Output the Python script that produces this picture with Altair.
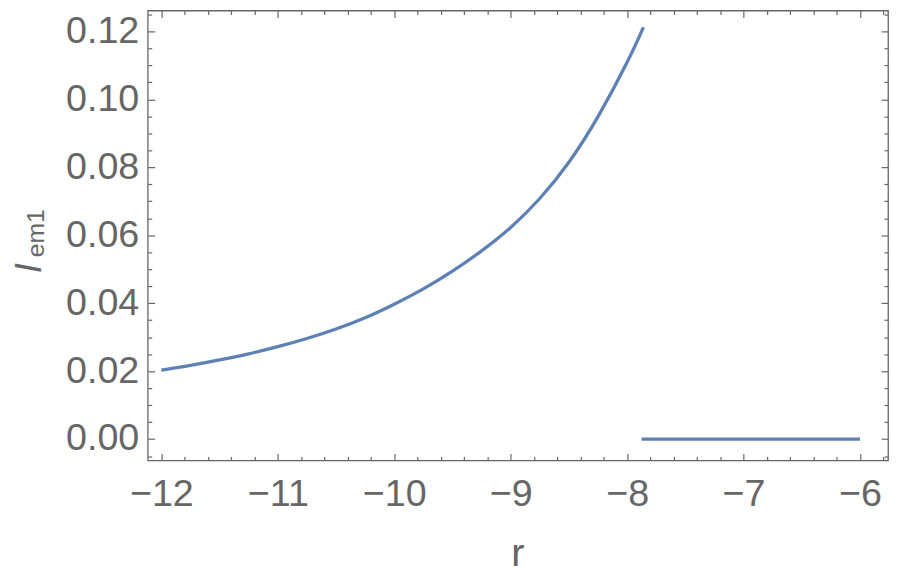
import altair as alt
import pandas as pd

# curve segment
curve_r = [-12.0, -11.75, -11.5, -11.25, -11.0, -10.75, -10.5, -10.25, -10.0,
           -9.75, -9.5, -9.25, -9.0, -8.75, -8.5, -8.25, -8.0, -7.86]
curve_i = [0.0203, 0.0217, 0.0233, 0.0251, 0.0272, 0.0296, 0.0324, 0.0357, 0.0397,
           0.0442, 0.0494, 0.0554, 0.0623, 0.0708, 0.0815, 0.0949, 0.1109, 0.1212]
# flat segment
flat_r = [-7.875, -6.0]
flat_i = [0.0, 0.0]

x_major = [-12, -11, -10, -9, -8, -7, -6]
x_minor = [round(-12.0 + 0.2 * k, 2) for k in range(0, 31) if k % 5 != 0] + [-5.8]
y_major = [0.00, 0.02, 0.04, 0.06, 0.08, 0.10, 0.12]
y_minor = [-0.005] + [round(0.005 * k, 3) for k in range(0, 26) if k % 4 != 0]

x_dom = [-12.117, -5.759]
y_dom = [-0.0063, 0.12612]

df = pd.DataFrame({
    "r": curve_r + flat_r,
    "I": curve_i + flat_i,
    "seg": ["a"] * len(curve_r) + ["b"] * len(flat_r),
})

GRAY = "#666666"
FONT = "Liberation Sans"
BLUE = "#5E81B5"

common = dict(grid=False, domain=False, tickColor=GRAY, tickWidth=1.2,
              labelColor=GRAY, labelFont=FONT, labelFontSize=38, title=None)


def xs(axis):
    return alt.X("r:Q", scale=alt.Scale(domain=x_dom, nice=False, zero=False), axis=axis)


def ys(axis):
    return alt.Y("I:Q", scale=alt.Scale(domain=y_dom, nice=False, zero=False), axis=axis)


main = alt.Chart(df).mark_line(color=BLUE, strokeWidth=3.3, interpolate="natural").encode(
    x=xs(alt.Axis(orient="bottom", values=x_major, format="d", offset=-7, tickSize=7,
                  labelPadding=15, **common)),
    y=ys(alt.Axis(orient="left", values=y_major, format=".2f", offset=-7, tickSize=7,
                  labelPadding=9, **common)),
    detail="seg:N",
)

minor_bl = alt.Chart(df).mark_point(opacity=0).encode(
    x=xs(alt.Axis(orient="bottom", values=x_minor, labels=False, offset=-4, tickSize=4, **common)),
    y=ys(alt.Axis(orient="left", values=y_minor, labels=False, offset=-4, tickSize=4, **common)),
)

major_tr = alt.Chart(df).mark_point(opacity=0).encode(
    x=xs(alt.Axis(orient="top", values=x_major, labels=False, offset=-7, tickSize=7, **common)),
    y=ys(alt.Axis(orient="right", values=y_major, labels=False, offset=-7, tickSize=7, **common)),
)

minor_tr = alt.Chart(df).mark_point(opacity=0).encode(
    x=xs(alt.Axis(orient="top", values=x_minor, labels=False, offset=-4, tickSize=4, **common)),
    y=ys(alt.Axis(orient="right", values=y_minor, labels=False, offset=-4, tickSize=4, **common)),
)

title_df = pd.DataFrame({"t": ["x"]})
ylab_main = alt.Chart(title_df).mark_text(
    text="I", font=FONT, fontSize=37, fontStyle="italic", color=GRAY,
    angle=270, align="left", baseline="alphabetic",
).encode(x=alt.value(-108), y=alt.value(265))
ylab_sub = alt.Chart(title_df).mark_text(
    text="em1", font=FONT, fontSize=25, color=GRAY,
    angle=270, align="left", baseline="alphabetic",
).encode(x=alt.value(-105), y=alt.value(249))
xlab = alt.Chart(title_df).mark_text(
    text="r", font=FONT, fontSize=40, color=GRAY, align="center", baseline="alphabetic",
).encode(x=alt.value(373.5), y=alt.value(560))

chart = alt.layer(main, minor_bl, major_tr, minor_tr, ylab_main, ylab_sub, xlab).resolve_scale(
    x="independent", y="independent"
).properties(
    width=747, height=454,
    autosize=alt.AutoSizeParams(type="none"),
    padding={"left": 141, "top": 0, "right": 4, "bottom": 118},
).configure_view(stroke=GRAY, strokeWidth=1.3)

chart.save("out.html", embed_options={"renderer": "svg", "actions": False})
